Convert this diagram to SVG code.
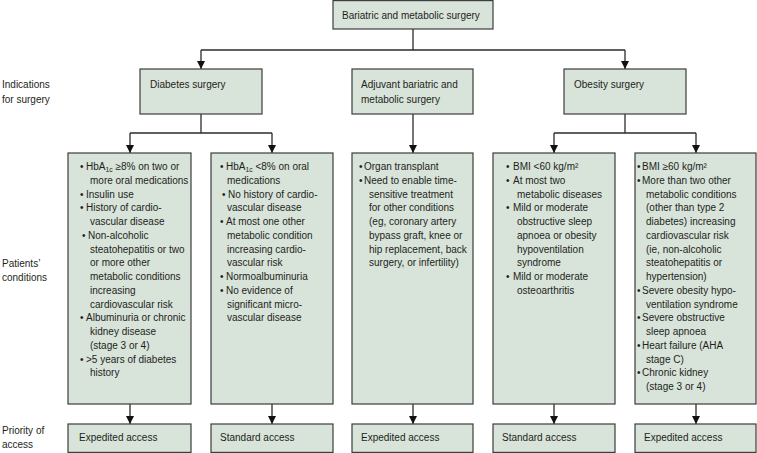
<svg xmlns="http://www.w3.org/2000/svg" width="757" height="453" viewBox="0 0 757 453">
<style>
  text { font-family: "Liberation Sans", Arial, sans-serif; fill: #231f20; }
  .hdr { font-size: 10px; }
  .lst { font-size: 10px; }
  .lbl { font-size: 10px; }
  .box { fill: #d8e3da; stroke: #3d3d3d; stroke-width: 1.2; }
  .con { fill: none; stroke: #2b2b2b; stroke-width: 1.3; }
  .sub { font-size: 6.8px; }
</style>
<defs>
  <marker id="arr" markerUnits="userSpaceOnUse" markerWidth="9" markerHeight="9" refX="8" refY="4" orient="auto">
    <path d="M0,0 L8,4 L0,8 z" fill="#111"/>
  </marker>
</defs>

<g id="labels">
  <text class="lbl" x="2" y="88">Indications</text>
  <text class="lbl" x="2" y="103">for surgery</text>
  <text class="lbl" x="2" y="267">Patients’</text>
  <text class="lbl" x="2" y="281">conditions</text>
  <text class="lbl" x="2" y="434">Priority of</text>
  <text class="lbl" x="2" y="448">access</text>
</g>

<g id="connectors">
  <path class="con" d="M413,29 V50 M201,50 H625"/>
  <path class="con" d="M201,50 V69" marker-end="url(#arr)"/>
  <path class="con" d="M625,50 V69" marker-end="url(#arr)"/>
  <path class="con" d="M201,114 V133 M130,133 H272"/>
  <path class="con" d="M130,133 V153" marker-end="url(#arr)"/>
  <path class="con" d="M272,133 V153" marker-end="url(#arr)"/>
  <path class="con" d="M413,114 V153" marker-end="url(#arr)"/>
  <path class="con" d="M625,114 V133 M554,133 H696"/>
  <path class="con" d="M554,133 V153" marker-end="url(#arr)"/>
  <path class="con" d="M696,133 V153" marker-end="url(#arr)"/>
  <path class="con" d="M130,404 V424" marker-end="url(#arr)"/>
  <path class="con" d="M272,404 V424" marker-end="url(#arr)"/>
  <path class="con" d="M413,404 V424" marker-end="url(#arr)"/>
  <path class="con" d="M554,404 V424" marker-end="url(#arr)"/>
  <path class="con" d="M696,404 V424" marker-end="url(#arr)"/>
</g>

<g id="root">
  <rect class="box" x="333" y="0.6" width="160" height="28.4"/>
  <text class="hdr" x="342" y="18.5">Bariatric and metabolic surgery</text>
</g>

<g id="diabetes">
  <rect class="box" x="140" y="69" width="122" height="45"/>
  <text class="hdr" x="150" y="88">Diabetes surgery</text>
</g>
<g id="adjuvant">
  <rect class="box" x="352" y="69" width="121" height="45"/>
  <text class="hdr" x="361" y="88">Adjuvant bariatric and</text>
  <text class="hdr" x="361" y="103">metabolic surgery</text>
</g>
<g id="obesity">
  <rect class="box" x="564" y="69" width="122" height="45"/>
  <text class="hdr" x="574" y="88">Obesity surgery</text>
</g>

<g id="cond1">
  <rect class="box" x="68" y="153" width="123" height="251"/>
  <text class="lst" x="80" y="170">•</text>
  <text class="lst" x="86" y="170">HbA<tspan class="sub" dy="2">1c</tspan><tspan dy="-2"> ≥8% on two or</tspan></text>
  <text class="lst" x="90" y="183.75">more oral medications</text>
  <text class="lst" x="80" y="197.5">•</text>
  <text class="lst" x="86" y="197.5">Insulin use</text>
  <text class="lst" x="80" y="211.25">•</text>
  <text class="lst" x="86" y="211.25">History of cardio-</text>
  <text class="lst" x="90" y="225">vascular disease</text>
  <text class="lst" x="82" y="238.75">•</text>
  <text class="lst" x="88" y="238.75">Non-alcoholic</text>
  <text class="lst" x="90" y="252.5">steatohepatitis or two</text>
  <text class="lst" x="90" y="266.25">or more other</text>
  <text class="lst" x="90" y="280">metabolic conditions</text>
  <text class="lst" x="90" y="293.75">increasing</text>
  <text class="lst" x="90" y="307.5">cardiovascular risk</text>
  <text class="lst" x="80" y="321.25">•</text>
  <text class="lst" x="86" y="321.25">Albuminuria or chronic</text>
  <text class="lst" x="90" y="335">kidney disease</text>
  <text class="lst" x="90" y="348.75">(stage 3 or 4)</text>
  <text class="lst" x="80" y="362.5">•</text>
  <text class="lst" x="86" y="362.5">&gt;5 years of diabetes</text>
  <text class="lst" x="90" y="376.25">history</text>
</g>

<g id="cond2">
  <rect class="box" x="211" y="153" width="122" height="251"/>
  <text class="lst" x="220" y="170">•</text>
  <text class="lst" x="226" y="170">HbA<tspan class="sub" dy="2">1c</tspan><tspan dy="-2"> &lt;8% on oral</tspan></text>
  <text class="lst" x="227" y="183.75">medications</text>
  <text class="lst" x="222" y="197.5">•</text>
  <text class="lst" x="228" y="197.5">No history of cardio-</text>
  <text class="lst" x="227" y="211.25">vascular disease</text>
  <text class="lst" x="220" y="225">•</text>
  <text class="lst" x="226" y="225">At most one other</text>
  <text class="lst" x="227" y="238.75">metabolic condition</text>
  <text class="lst" x="227" y="252.5">increasing cardio-</text>
  <text class="lst" x="227" y="266.25">vascular risk</text>
  <text class="lst" x="220" y="280">•</text>
  <text class="lst" x="226" y="280">Normoalbuminuria</text>
  <text class="lst" x="220" y="293.75">•</text>
  <text class="lst" x="226" y="293.75">No evidence of</text>
  <text class="lst" x="227" y="307.5">significant micro-</text>
  <text class="lst" x="227" y="321.25">vascular disease</text>
</g>

<g id="cond3">
  <rect class="box" x="352" y="153" width="121" height="251"/>
  <text class="lst" x="359" y="170">•</text>
  <text class="lst" x="364" y="170">Organ transplant</text>
  <text class="lst" x="359" y="183.75">•</text>
  <text class="lst" x="364" y="183.75">Need to enable time-</text>
  <text class="lst" x="369" y="197.5">sensitive treatment</text>
  <text class="lst" x="369" y="211.25">for other conditions</text>
  <text class="lst" x="369" y="225">(eg, coronary artery</text>
  <text class="lst" x="369" y="238.75">bypass graft, knee or</text>
  <text class="lst" x="369" y="252.5">hip replacement, back</text>
  <text class="lst" x="369" y="266.25">surgery, or infertility)</text>
</g>

<g id="cond4">
  <rect class="box" x="493" y="153" width="122" height="251"/>
  <text class="lst" x="506" y="170">•</text>
  <text class="lst" x="513" y="170">BMI &lt;60 kg/m²</text>
  <text class="lst" x="506" y="183.75">•</text>
  <text class="lst" x="513" y="183.75">At most two</text>
  <text class="lst" x="517" y="197.5">metabolic diseases</text>
  <text class="lst" x="506" y="211.25">•</text>
  <text class="lst" x="513" y="211.25">Mild or moderate</text>
  <text class="lst" x="517" y="225">obstructive sleep</text>
  <text class="lst" x="517" y="238.75">apnoea or obesity</text>
  <text class="lst" x="517" y="252.5">hypoventilation</text>
  <text class="lst" x="517" y="266.25">syndrome</text>
  <text class="lst" x="506" y="280">•</text>
  <text class="lst" x="513" y="280">Mild or moderate</text>
  <text class="lst" x="517" y="293.75">osteoarthritis</text>
</g>

<g id="cond5">
  <rect class="box" x="635" y="153" width="121" height="251"/>
  <text class="lst" x="637" y="170">•</text>
  <text class="lst" x="642" y="170">BMI ≥60 kg/m²</text>
  <text class="lst" x="637" y="183.75">•</text>
  <text class="lst" x="642" y="183.75">More than two other</text>
  <text class="lst" x="646" y="197.5">metabolic conditions</text>
  <text class="lst" x="646" y="211.25">(other than type 2</text>
  <text class="lst" x="646" y="225">diabetes) increasing</text>
  <text class="lst" x="646" y="238.75">cardiovascular risk</text>
  <text class="lst" x="646" y="252.5">(ie, non-alcoholic</text>
  <text class="lst" x="646" y="266.25">steatohepatitis or</text>
  <text class="lst" x="646" y="280">hypertension)</text>
  <text class="lst" x="637" y="293.75">•</text>
  <text class="lst" x="642" y="293.75">Severe obesity hypo-</text>
  <text class="lst" x="646" y="307.5">ventilation syndrome</text>
  <text class="lst" x="637" y="321.25">•</text>
  <text class="lst" x="642" y="321.25">Severe obstructive</text>
  <text class="lst" x="646" y="335">sleep apnoea</text>
  <text class="lst" x="637" y="348.75">•</text>
  <text class="lst" x="642" y="348.75">Heart failure (AHA</text>
  <text class="lst" x="646" y="362.5">stage C)</text>
  <text class="lst" x="637" y="376.25">•</text>
  <text class="lst" x="642" y="376.25">Chronic kidney</text>
  <text class="lst" x="646" y="390">(stage 3 or 4)</text>
</g>

<g id="access1">
  <rect class="box" x="68" y="424" width="123" height="28.4"/>
  <text class="hdr" x="79" y="441">Expedited access</text>
</g>
<g id="access2">
  <rect class="box" x="211" y="424" width="122" height="28.4"/>
  <text class="hdr" x="220" y="441">Standard access</text>
</g>
<g id="access3">
  <rect class="box" x="352" y="424" width="121" height="28.4"/>
  <text class="hdr" x="361" y="441">Expedited access</text>
</g>
<g id="access4">
  <rect class="box" x="493" y="424" width="122" height="28.4"/>
  <text class="hdr" x="502" y="441">Standard access</text>
</g>
<g id="access5">
  <rect class="box" x="635" y="424" width="121" height="28.4"/>
  <text class="hdr" x="644" y="441">Expedited access</text>
</g>
</svg>
